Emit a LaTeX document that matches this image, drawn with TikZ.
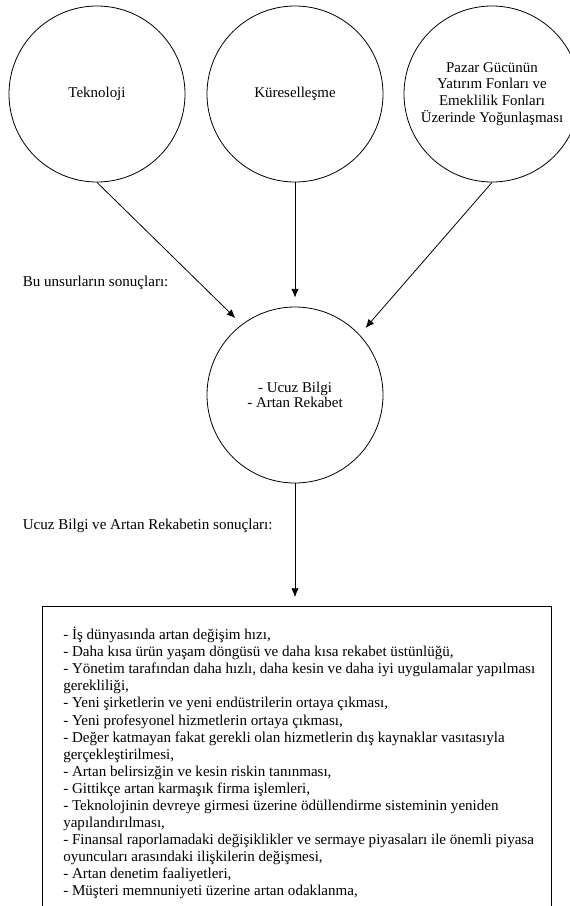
\documentclass[tikz,border=0pt]{standalone}
\usepackage{fontspec}
\setmainfont{Liberation Serif}
\usetikzlibrary{arrows.meta}

\begin{document}
\begin{tikzpicture}[x=0.75pt,y=-0.75pt,
    daire/.style={circle,draw,line width=0.6pt,minimum size=132pt,inner sep=0pt,
      align=center,font=\fontsize{11.2}{12.5}\selectfont},
    ok/.style={-{Latex[length=6.5pt,width=5.5pt]},line width=0.6pt,shorten >=6.75pt},
    etiket/.style={anchor=west,inner sep=0pt,font=\fontsize{11.3}{13}\selectfont}]
  \useasboundingbox (0,0) rectangle (570,906);
  % ust sira
  \node[daire] (tek) at (97,94) {Teknoloji};
  \node[daire] (kur) at (295,94) {Küreselleşme};
  \node[daire] (pazar) at (492,94) {Pazar Gücünün\\Yatırım Fonları ve\\Emeklilik Fonları\\Üzerinde Yoğunlaşması};
  % orta
  \node[daire,font=\fontsize{11.2}{11.8}\selectfont] (ucuz) at (295,395) {- Ucuz Bilgi\\- Artan Rekabet};
  \node[etiket] (bu) at (22.5,283) {Bu unsurların sonuçları:};
  \node[etiket] (uc) at (22.5,526) {Ucuz Bilgi ve Artan Rekabetin sonuçları:};
  % alt kutu
  \node[draw,line width=0.6pt,anchor=north west,minimum width=381.75pt,minimum height=250pt] (kutu) at (42,606) {};
  \node[anchor=north west,inner sep=0pt,align=left,font=\fontsize{11.3}{12.8}\selectfont] (liste) at (63,627) {%
    - İş dünyasında artan değişim hızı,\\
    - Daha kısa ürün yaşam döngüsü ve daha kısa rekabet üstünlüğü,\\
    - Yönetim tarafından daha hızlı, daha kesin ve daha iyi uygulamalar yapılması\\
    gerekliliği,\\
    - Yeni şirketlerin ve yeni endüstrilerin ortaya çıkması,\\
    - Yeni profesyonel hizmetlerin ortaya çıkması,\\
    - Değer katmayan fakat gerekli olan hizmetlerin dış kaynaklar vasıtasıyla\\
    gerçekleştirilmesi,\\
    - Artan belirsizğin ve kesin riskin tanınması,\\
    - Gittikçe artan karmaşık firma işlemleri,\\
    - Teknolojinin devreye girmesi üzerine ödüllendirme sisteminin yeniden\\
    yapılandırılması,\\
    - Finansal raporlamadaki değişiklikler ve sermaye piyasaları ile önemli piyasa\\
    oyuncuları arasındaki ilişkilerin değişmesi,\\
    - Artan denetim faaliyetleri,\\
    - Müşteri memnuniyeti üzerine artan odaklanma,};
  % oklar
  \draw[ok] (tek.south) -- (ucuz.127);
  \draw[ok] (kur.south) -- (ucuz.north);
  \draw[ok] (pazar.south) -- (ucuz.43);
  \draw[ok] (ucuz.south) -- (ucuz.south |- kutu.north);
\end{tikzpicture}
\end{document}
